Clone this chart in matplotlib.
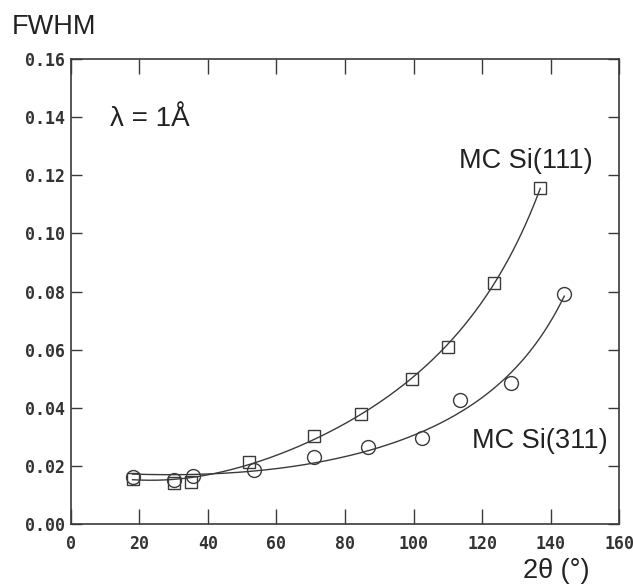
import matplotlib
matplotlib.use("Agg")
import matplotlib.pyplot as plt
import numpy as np

# 读取自图片的数据点 (2θ, FWHM)
two_theta_111 = [18, 30, 35, 52, 71, 84.6, 99.5, 110, 123.5, 137]
fwhm_111 = [0.0155, 0.0142, 0.0145, 0.0214, 0.0303, 0.038, 0.050, 0.061, 0.083, 0.1155]
two_theta_311 = [18, 30, 35.5, 53.4, 71, 86.7, 102.6, 113.7, 128.6, 144]
fwhm_311 = [0.016, 0.015, 0.0165, 0.0186, 0.023, 0.0265, 0.0297, 0.0428, 0.0486, 0.079]

x_ticks = [0, 20, 40, 60, 80, 100, 120, 140, 160]
y_ticks = [0.00, 0.02, 0.04, 0.06, 0.08, 0.10, 0.12, 0.14, 0.16]

line_col = "#3a3a3a"
text_col = "#222222"


def caglioti_fit(tt, fw):
    # FWHM^2 = U tan^2 + V tan + W 拟合
    t = np.tan(np.radians(np.array(tt) / 2))
    coef = np.polyfit(t, np.array(fw) ** 2, 2)
    xs = np.linspace(min(tt), max(tt), 300)
    ts = np.tan(np.radians(xs / 2))
    ys = np.sqrt(np.clip(np.polyval(coef, ts), 0, None))
    return xs, ys


fig = plt.figure(figsize=(6.33, 5.86), dpi=100)
ax = fig.add_axes([0.112, 0.106, 0.866, 0.793])

for tt, fw, mk in [(two_theta_111, fwhm_111, "s"), (two_theta_311, fwhm_311, "o")]:
    xs, ys = caglioti_fit(tt, fw)
    ax.plot(xs, ys, color=line_col, lw=1.0)
    ax.plot(tt, fw, mk, mfc="none", mec=line_col, mew=1.0,
            ms=8 if mk == "s" else 10, ls="none")

ax.set_xlim(0, 160)
ax.set_ylim(0, 0.16)
ax.set_xticks(x_ticks)
ax.set_yticks(y_ticks)
ax.set_xticklabels([str(v) for v in x_ticks])
ax.set_yticklabels(["%.2f" % v for v in y_ticks])
ax.tick_params(axis="both", direction="in", top=True, right=True,
               color=line_col, width=1.0, labelcolor="#333333")
ax.tick_params(axis="x", length=11, pad=8)
ax.tick_params(axis="y", length=8, pad=4)
for lab in ax.get_xticklabels() + ax.get_yticklabels():
    lab.set_family("DejaVu Sans Mono")
    lab.set_weight("bold")
    lab.set_fontsize(12)
for sp in ax.spines.values():
    sp.set_color(line_col)
    sp.set_linewidth(1.2)

fig.text(0.019, 0.954, "FWHM", fontsize=19.5, family="Liberation Sans",
         color=text_col, va="center", ha="left")
ax.text(11.5, 0.1395, "λ = 1Å", fontsize=20, family="Liberation Sans",
        color=text_col, va="center", ha="left")
ax.text(132.7, 0.1248, "MC Si(111)", fontsize=19.5, family="Liberation Sans",
        color=text_col, va="center", ha="center")
ax.text(137, 0.0286, "MC Si(311)", fontsize=19.5, family="Liberation Sans",
        color=text_col, va="center", ha="center")
fig.text(0.878, 0.026, "2θ (°)", fontsize=19.5, family="Liberation Sans",
         color=text_col, va="center", ha="center")

fig.savefig("out.png", dpi=100)
